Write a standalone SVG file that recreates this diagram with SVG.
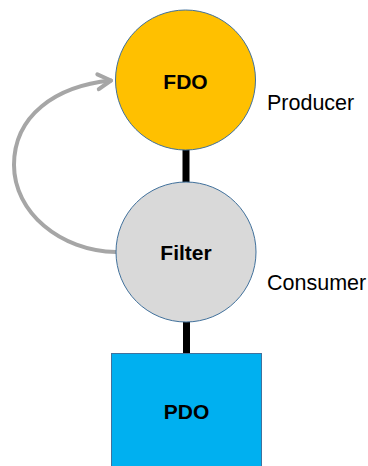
<svg xmlns="http://www.w3.org/2000/svg" width="368" height="466" viewBox="0 0 368 466">
<style>
.node-stroke{stroke:#41719C;stroke-width:1}
.lbl{font-family:"Liberation Sans",Arial,sans-serif;font-weight:bold;font-size:21px;fill:#000;text-anchor:middle}
.role{font-family:"Liberation Sans",Arial,sans-serif;font-size:21.5px;fill:#000}
.link{stroke:#000;stroke-width:7;fill:none}
.loop{stroke:#A6A6A6;stroke-width:4;fill:none;stroke-linecap:round}
</style>
<defs>
<marker id="open" markerUnits="userSpaceOnUse" markerWidth="20" markerHeight="20" refX="0" refY="0" viewBox="-16 -10 20 20" orient="auto" overflow="visible">
<path d="M-13,-7.5 L0,0 L-13,7.5" fill="none" stroke="#A6A6A6" stroke-width="4" stroke-linecap="round" stroke-linejoin="round"/>
</marker>
</defs>
<rect width="368" height="466" fill="#fff"/>
<g id="connectors">
<line class="link" x1="186" y1="149" x2="186" y2="183"/>
<line class="link" x1="186.5" y1="320" x2="186.5" y2="354"/>
<path class="loop" d="M116,252 C60,251 14,212 14,165 C14,116 55,86 111,80.5" marker-end="url(#open)"/>
</g>
<g id="fdo">
<circle class="node-stroke" cx="185.5" cy="80" r="70" fill="#FFC000"/>
<text class="lbl" x="185.5" y="89">FDO</text>
</g>
<g id="filter">
<circle class="node-stroke" cx="186" cy="252" r="70" fill="#D9D9D9"/>
<text class="lbl" x="186" y="260">Filter</text>
</g>
<g id="pdo">
<rect class="node-stroke" x="111.5" y="353.5" width="150" height="120" fill="#00B0F0"/>
<text class="lbl" x="186.5" y="419">PDO</text>
</g>
<g id="labels">
<text class="role" x="267" y="110">Producer</text>
<text class="role" x="267" y="290">Consumer</text>
</g>
</svg>
